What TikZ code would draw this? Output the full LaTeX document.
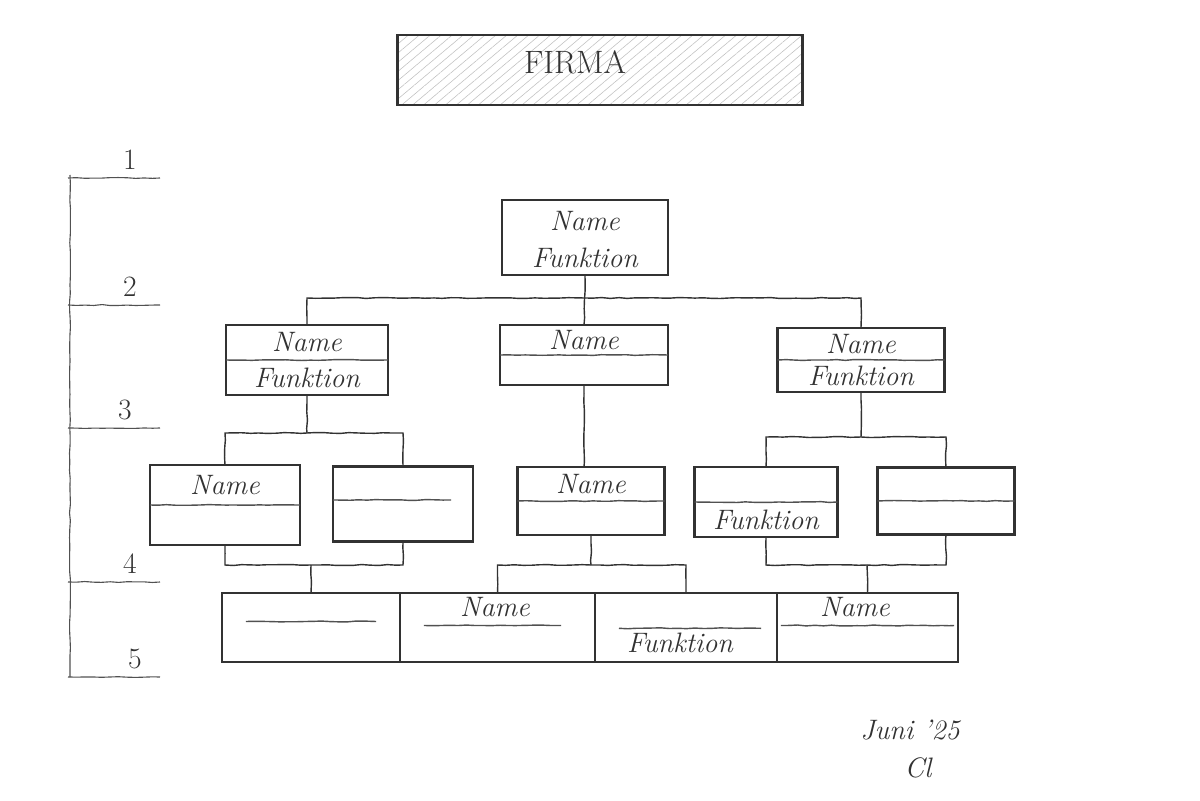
\documentclass[tikz,border=0pt]{standalone}
\usepackage{tikz}
\usetikzlibrary{
  positioning, calc,
  patterns, patterns.meta,
  decorations.pathmorphing
}
\definecolor{pencil}{RGB}{50,50,50}
\definecolor{pencillight}{RGB}{150,150,150}
\definecolor{paper}{RGB}{255,255,255}
\tikzset{
  sketch/.style={decorate,decoration={random steps,segment length=6pt,amplitude=0.35pt}},
  orgbox/.style={rectangle,draw=pencil,line width=1.8pt,inner sep=0pt,outer sep=0pt,fill=paper},
  firmabox/.style={orgbox,line width=2pt,pattern={Lines[angle=40,distance=5pt,line width=0.4pt]},pattern color=pencillight!60},
  cellbox/.style={orgbox,line width=1.5pt},
  handtext/.style={font=\fontsize{20}{24}\selectfont\itshape,text=pencil,inner sep=1pt},
  rulertext/.style={font=\fontsize{21}{25}\selectfont,text=pencil,inner sep=1pt},
  conn/.style={draw=pencil,line width=1pt,sketch},
  divline/.style={draw=pencil!85,line width=1pt,sketch},
  rulerline/.style={draw=pencil!85,line width=0.8pt,sketch}
}

\begin{document}
\begin{tikzpicture}[x=0.025cm,y=-0.025cm]
  \useasboundingbox (0,0) rectangle (1200,800);

  % company header
  \node[firmabox,minimum width=10.125cm,minimum height=1.75cm] (firma) at (600,70) {};
  \node[rulertext,font=\fontsize{23}{27}\selectfont] (firmatext) at (575,62) {FIRMA};

  % level scale
  \draw[rulerline] (70,175) -- (70,677);
  \foreach \n/\y/\lx in {1/178/130, 2/305/130, 3/428/125, 4/582/130, 5/677/135} {
    \draw[rulerline] (68,\y) -- (160,\y);
    \node[rulertext] (r\n) at (\lx,\y-18) {\n};
  }

  % level 1
  \node[orgbox,minimum width=4.15cm,minimum height=1.875cm] (top) at (585,237.5) {};
  \node[handtext] (topname) at ($(top.center)!0.45!(top.north)$) {Name};
  \node[handtext] (topfkt) at ($(top.center)!0.55!(top.south)$) {Funktion};

  % level 2
  \node[orgbox,minimum width=4.05cm,minimum height=1.75cm] (l2a) at (307,360) {};
  \node[orgbox,minimum width=4.2cm,minimum height=1.5cm] (l2b) at (584,355) {};
  \node[orgbox,minimum width=4.175cm,minimum height=1.6cm] (l2c) at (861,360) {};
  \foreach \b in {l2a,l2b,l2c} \draw[divline] (\b.west) -- (\b.east);
  \node[handtext] (l2aname) at ($(l2a.center)!0.5!(l2a.north)$) {Name};
  \node[handtext] (l2afkt) at ($(l2a.center)!0.5!(l2a.south)$) {Funktion};
  \node[handtext] (l2bname) at ($(l2b.center)!0.5!(l2b.north)$) {Name};
  \node[handtext] (l2cname) at ($(l2c.center)!0.5!(l2c.north)$) {Name};
  \node[handtext] (l2cfkt) at ($(l2c.center)!0.5!(l2c.south)$) {Funktion};

  % level 3
  \node[orgbox,minimum width=3.75cm,minimum height=2.0cm] (l3a) at (225,505) {};
  \node[orgbox,minimum width=3.5cm,minimum height=1.875cm] (l3b) at (403,504) {};
  \node[orgbox,minimum width=3.675cm,minimum height=1.7cm] (l3c) at (591,501) {};
  \node[orgbox,minimum width=3.575cm,minimum height=1.75cm] (l3d) at (766,502) {};
  \node[orgbox,minimum width=3.425cm,minimum height=1.675cm] (l3e) at (946,501) {};
  \foreach \b in {l3a,l3c,l3d,l3e} \draw[divline] (\b.west) -- (\b.east);
  \draw[divline] ([yshift=0.1cm]l3b.west) -- ([xshift=-0.55cm,yshift=0.1cm]l3b.east);
  \node[handtext] (l3aname) at ($(l3a.center)!0.5!(l3a.north)$) {Name};
  \node[handtext] (l3cname) at ($(l3c.center)!0.5!(l3c.north)$) {Name};
  \node[handtext] (l3dfkt) at ($(l3d.center)!0.5!(l3d.south)$) {Funktion};

  % level 4
  \node[cellbox,minimum width=4.45cm,minimum height=1.725cm] (l4a) at (311,627.5) {};
  \node[cellbox,minimum width=4.875cm,minimum height=1.725cm] (l4b) at (497.5,627.5) {};
  \node[cellbox,minimum width=4.55cm,minimum height=1.725cm] (l4c) at (686,627.5) {};
  \node[cellbox,minimum width=4.525cm,minimum height=1.725cm] (l4d) at (867.5,627.5) {};
  \draw[divline] ([xshift=0.6cm,yshift=0.15cm]l4a.west) -- ([xshift=-0.6cm,yshift=0.15cm]l4a.east);
  \draw[divline] ([xshift=0.6cm,yshift=0.05cm]l4b.west) -- ([xshift=-0.85cm,yshift=0.05cm]l4b.east);
  \draw[divline] ([xshift=0.6cm,yshift=-0.02cm]l4c.west) -- ([xshift=-0.4cm,yshift=-0.02cm]l4c.east);
  \draw[divline] ([xshift=0.1cm,yshift=0.05cm]l4d.west) -- ([xshift=-0.1cm,yshift=0.05cm]l4d.east);
  \node[handtext] (l4bname) at (495,607) {Name};
  \node[handtext] (l4cfkt) at (680,643) {Funktion};
  \node[handtext] (l4dname) at (855,607) {Name};

  % connectors
  \coordinate (j1) at (585,298);
  \coordinate (j2) at (307,433);
  \coordinate (j3) at (861,437);
  \coordinate (j4) at (311,565);
  \coordinate (j5) at (591,565);
  \coordinate (j6) at (867,565);
  \draw[conn] (top.south) -- (l2b.north);
  \draw[conn] (l2a.north) |- (j1) -| (l2c.north);
  \draw[conn] (l2a.south) -- (j2);
  \draw[conn] (l3a.north) |- (j2) -| (l3b.north);
  \draw[conn] (l2b.south) -- (l2b.south |- l3c.north);
  \draw[conn] (l2c.south) -- (j3);
  \draw[conn] (l3d.north) |- (j3) -| (l3e.north);
  \draw[conn] (l3a.south) |- (j4) -| (l3b.south);
  \draw[conn] (j4) -- (l4a.north);
  \draw[conn] (l3c.south) -- (j5);
  \draw[conn] (l4b.north) |- (j5) -| (l4c.north);
  \draw[conn] (l3d.south) |- (j6) -| (l3e.south);
  \draw[conn] (j6) -- (l4d.north);

  % date and initials
  \node[handtext] (date) at (910,730) {Juni '25};
  \node[handtext] (initials) at (918,768) {Cl};
\end{tikzpicture}
\end{document}
